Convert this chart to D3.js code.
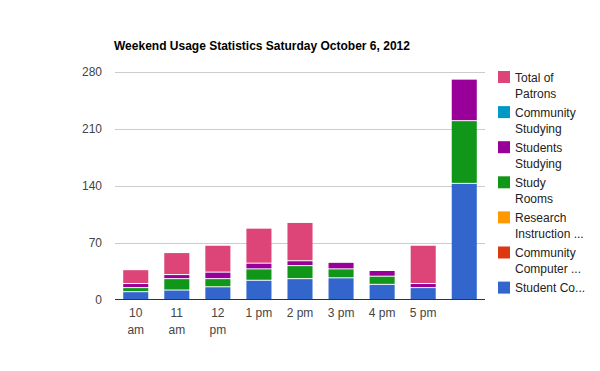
<!DOCTYPE html>
<html><head><meta charset="utf-8">
<script src="https://cdn.jsdelivr.net/npm/d3@7"></script>
<style>body{margin:0;background:#fff}svg{display:block;font-family:Arial,"Liberation Sans",sans-serif}</style>
</head><body>
<script>
const title = "Weekend Usage Statistics Saturday October 6, 2012";
const categories = [["10","am"],["11","am"],["12","pm"],["1 pm"],["2 pm"],["3 pm"],["4 pm"],["5 pm"],[""]];
const seriesNames = ["Student Co...", "Community Computer ...", "Research Instruction ...", "Study Rooms", "Students Studying", "Community Studying", "Total of Patrons"];
const legendLabels = [["Total of","Patrons"],["Community","Studying"],["Students","Studying"],["Study","Rooms"],["Research","Instruction ..."],["Community","Computer ..."],["Student Co..."]];
const colors = ["#3366cc","#dc3912","#ff9900","#109618","#990099","#0099c6","#dd4477"];
const studentComputers   = [9, 11, 15, 23, 25, 26, 18, 14, 142];
const communityComputers = [0, 0, 0, 0, 0, 0, 0, 0, 0];
const researchInstruction= [0, 0, 0, 0, 0, 0, 0, 0, 0];
const studyRooms         = [5, 14, 10, 14, 16, 11, 10, 0, 77];
const studentsStudying   = [5, 5, 8, 7, 6, 8, 7, 5, 51];
const communityStudying  = [0, 0, 0, 0, 0, 0, 0, 0, 0];
const totalPatrons       = [17, 27, 33, 43, 47, 0, 0, 47, 0];
const yTicks = [0, 70, 140, 210, 280];

const W = 600, H = 371;
const svg = d3.select("body").append("svg").attr("width", W).attr("height", H);
const m = {l:115, r:485, t:71.5, b:299.5};
const series = [studentComputers, communityComputers, researchInstruction, studyRooms, studentsStudying, communityStudying, totalPatrons];

const x = d3.scaleBand().domain(d3.range(categories.length)).range([m.l, m.r]).paddingInner(0.39).paddingOuter(0.2);
const y = d3.scaleLinear().domain([0, 280]).range([m.b, m.t]);

svg.append("text").attr("x", 114).attr("y", 50).attr("font-size", 12).attr("font-weight", "bold").attr("fill", "#000").text(title);

// gridlines
svg.append("g").selectAll("line").data(yTicks.filter(d => d > 0)).join("line")
  .attr("x1", m.l).attr("x2", m.r).attr("y1", d => Math.round(y(d)) + 0.5).attr("y2", d => Math.round(y(d)) + 0.5)
  .attr("stroke", "#cccccc");

// y labels
const yAxis = d3.axisLeft(y).tickValues(yTicks).tickSize(0).tickPadding(13);
const gy = svg.append("g").attr("transform", `translate(${m.l},0)`).call(yAxis);
gy.select(".domain").remove();
gy.selectAll("text").attr("font-size", 12).attr("fill", "#444").attr("font-family", "Arial, 'Liberation Sans', sans-serif");

// stacked bars
const stackData = categories.map((c, i) => { const o = {i}; series.forEach((s, k) => o[k] = s[i]); return o; });
const stack = d3.stack().keys(d3.range(series.length))(stackData);
stack.forEach((layer, k) => {
  svg.append("g").attr("fill", colors[k]).selectAll("rect").data(layer.filter(d => d[1] > d[0])).join("rect")
    .attr("x", d => x(d.data.i))
    .attr("width", x.bandwidth())
    .attr("y", d => y(d[1]))
    .attr("height", d => Math.max(0, y(d[0]) - y(d[1]) - (d[0] > 0 ? 1 : 0)));
});

// baseline
svg.append("line").attr("x1", m.l).attr("x2", m.r).attr("y1", 299.5).attr("y2", 299.5).attr("stroke", "#333").attr("stroke-width", 1);

// x labels
const gx = svg.append("g");
categories.forEach((lines, i) => {
  const t = gx.append("text").attr("x", x(i) + x.bandwidth()/2).attr("y", 317).attr("text-anchor", "middle")
    .attr("font-size", 12).attr("fill", "#444");
  lines.forEach((ln, j) => t.append("tspan").attr("x", x(i) + x.bandwidth()/2).attr("dy", j === 0 ? 0 : 16.5).text(ln));
});

// legend
const lg = svg.append("g");
legendLabels.forEach((lines, k) => {
  const cy = 71 + k * 35.1;
  lg.append("rect").attr("x", 498).attr("y", cy).attr("width", 12).attr("height", 12).attr("fill", colors[colors.length - 1 - k]);
  const t = lg.append("text").attr("x", 515).attr("y", cy + 10.5).attr("font-size", 12).attr("fill", "#222");
  lines.forEach((ln, j) => t.append("tspan").attr("x", 515).attr("dy", j === 0 ? 0 : 16).text(ln));
});
</script>
</body></html>
